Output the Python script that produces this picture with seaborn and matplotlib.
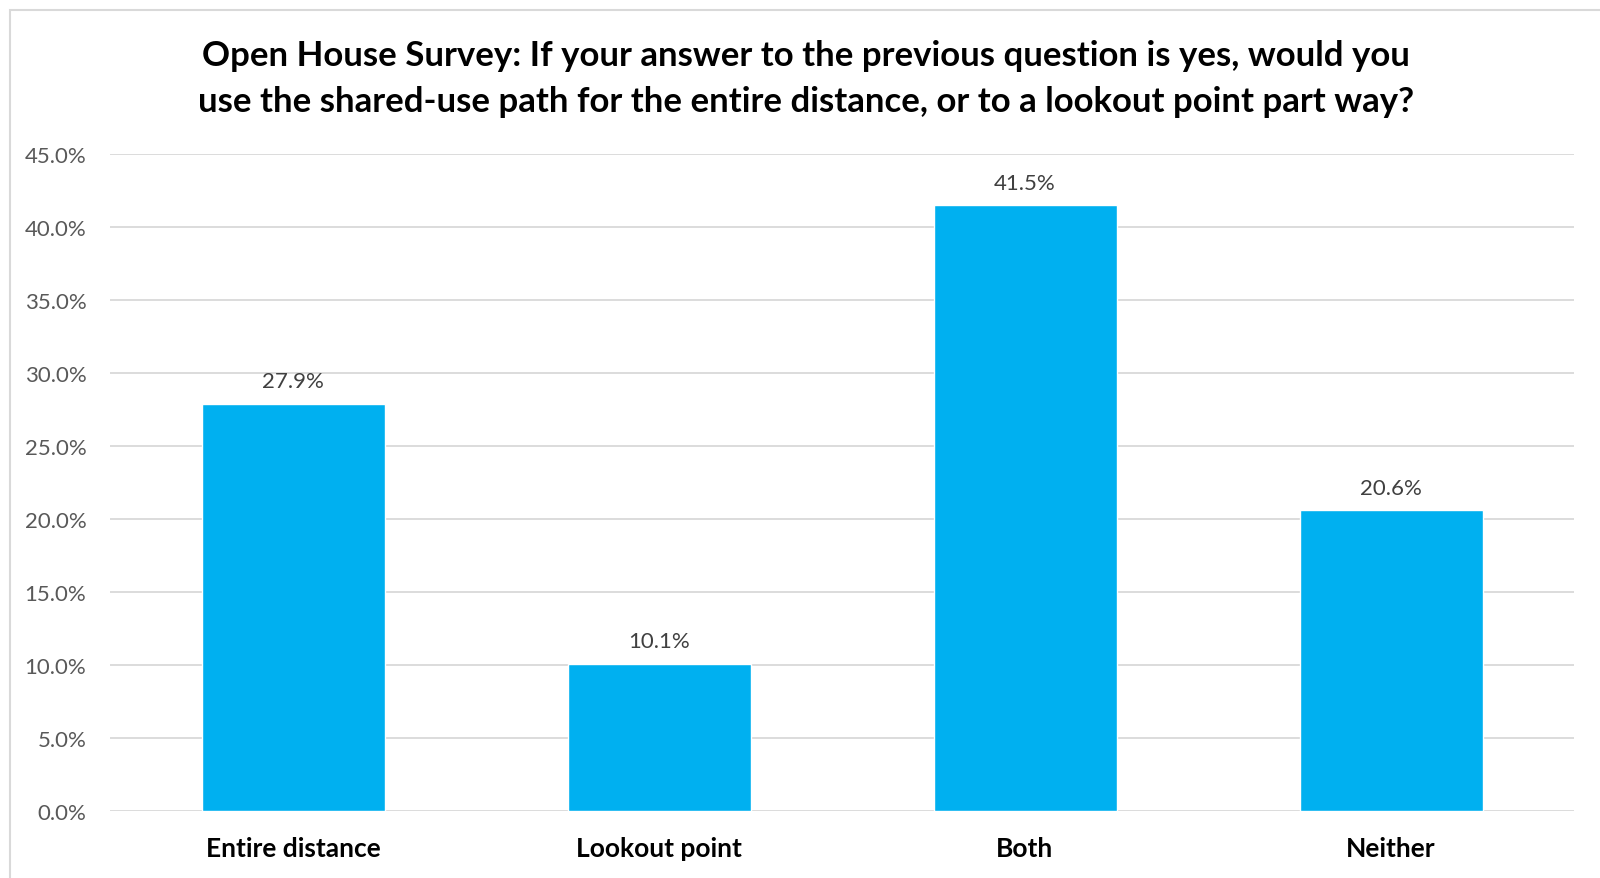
import matplotlib
matplotlib.use("Agg")
import matplotlib.pyplot as plt
import seaborn as sns
import pandas as pd
from matplotlib.patches import Rectangle
from matplotlib.ticker import FuncFormatter, MultipleLocator

categories = ["Entire distance", "Lookout point", "Both", "Neither"]
values = [27.9, 10.1, 41.5, 20.6]
title_lines = ["Open House Survey: If your answer to the previous question is yes, would you",
               "use the shared-use path for the entire distance, or to a lookout point part way?"]

sns.set_theme(style="white")
plt.rcParams['font.family'] = ['Lato', 'DejaVu Sans']

df = pd.DataFrame({"cat": categories, "val": values})

fig = plt.figure(figsize=(16, 8.79), dpi=100)
ax = fig.add_axes([110/1600, 1-812/879, (1574-110)/1600, (812-155)/879])

sns.barplot(data=df, x="cat", y="val", color="#00B0F0", saturation=1, width=0.5, ax=ax, zorder=3)

ax.set_ylim(0, 45)
ax.set_xlim(-0.5, len(categories)-0.5)
ax.yaxis.set_major_locator(MultipleLocator(5))
ax.yaxis.set_major_formatter(FuncFormatter(lambda v, p: f"{v:.1f}%"))
ax.grid(axis="y", color="#D9D9D9", linewidth=1.3, zorder=0)
ax.set_axisbelow(True)
for s in ax.spines.values():
    s.set_visible(False)
ax.set_xlabel("")
ax.set_ylabel("")
ax.tick_params(axis="y", labelsize=16, labelcolor="#595959", length=0, pad=17)
ax.tick_params(axis="x", labelsize=19, labelcolor="black", length=0, pad=18)
for lbl in ax.get_xticklabels():
    lbl.set_fontweight("bold")

for i, v in enumerate(values):
    ax.annotate(f"{v:.1f}%", xy=(i, v), xytext=(0, 9), textcoords="offset points",
                ha="center", va="bottom", fontsize=16, color="#404040")

fig.text(806/1600, 1-79/879, "\n".join(title_lines), ha="center", va="center",
         fontsize=25, fontweight="bold", color="black", linespacing=1.5)

fig.patches.append(Rectangle((10/1600, -0.05), 1.2, 1.05 - 11/879, transform=fig.transFigure,
                             fill=False, edgecolor="#D9D9D9", linewidth=1.5))

fig.savefig("out.png", dpi=100, facecolor="white")
